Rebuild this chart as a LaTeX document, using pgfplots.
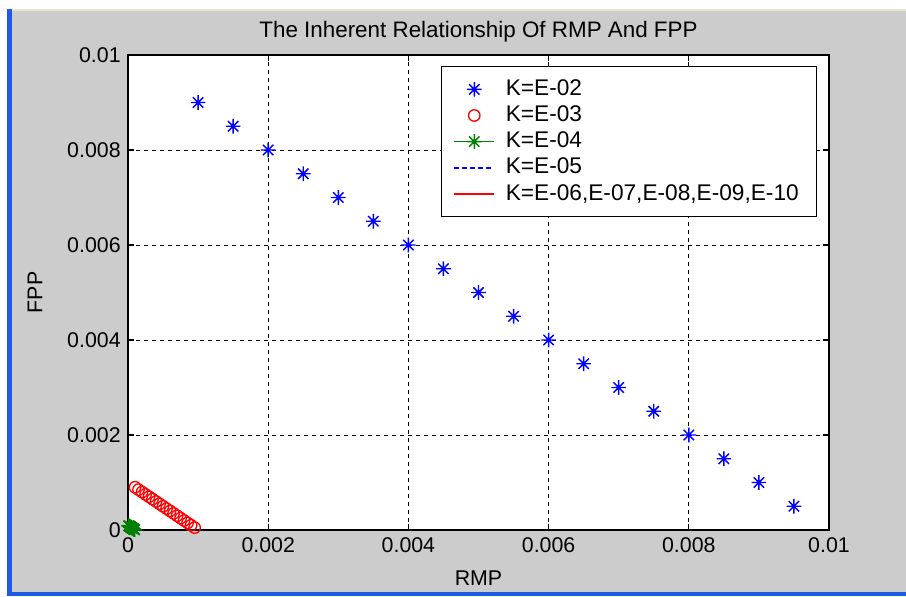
\documentclass[border=0pt]{standalone}
\usepackage{fontspec}
\setmainfont{Liberation Sans}
\usepackage{pgfplots}
\pgfplotsset{compat=1.18}
\definecolor{figgray}{RGB}{204,204,204}
\definecolor{winblue}{RGB}{30,90,230}
\definecolor{cream}{RGB}{232,228,212}
\definecolor{mgreen}{RGB}{0,128,0}
\pgfdeclareplotmark{mstar}{%
 \pgfpathmoveto{\pgfqpoint{-\pgfplotmarksize}{0pt}}\pgfpathlineto{\pgfqpoint{\pgfplotmarksize}{0pt}}%
 \pgfpathmoveto{\pgfqpoint{0pt}{-\pgfplotmarksize}}\pgfpathlineto{\pgfqpoint{0pt}{\pgfplotmarksize}}%
 \pgfpathmoveto{\pgfqpoint{-.707\pgfplotmarksize}{-.707\pgfplotmarksize}}\pgfpathlineto{\pgfqpoint{.707\pgfplotmarksize}{.707\pgfplotmarksize}}%
 \pgfpathmoveto{\pgfqpoint{-.707\pgfplotmarksize}{.707\pgfplotmarksize}}\pgfpathlineto{\pgfqpoint{.707\pgfplotmarksize}{-.707\pgfplotmarksize}}%
 \pgfusepathqstroke}
\begin{document}
\fontsize{16}{19}\selectfont
\begin{tikzpicture}
% figure window background
\fill[white] (-96pt,-49.5pt) rectangle (583.5pt,397.5pt);
\fill[cream] (-87pt,389.25pt) rectangle (583.5pt,390.75pt);
\fill[figgray] (-87pt,-46.5pt) rectangle (583.5pt,389.25pt);
\fill[winblue] (-90.75pt,-49.5pt) rectangle (-87pt,390.75pt);
\fill[winblue] (-90.75pt,-49.5pt) rectangle (583.5pt,-46.5pt);
\begin{axis}[
  at={(0pt,0pt)}, anchor=south west,
  scale only axis, width=525.75pt, height=356.25pt,
  xmin=0, xmax=0.01, ymin=0, ymax=0.01,
  xtick={0,0.002,0.004,0.006,0.008,0.01},
  ytick={0,0.002,0.004,0.006,0.008,0.01},
  xticklabels={0,0.002,0.004,0.006,0.008,0.01},
  yticklabels={0,0.002,0.004,0.006,0.008,0.01},
  scaled ticks=false,
  tick align=inside, major tick length=4.5pt,
  tick style={black, line width=0.8pt},
  axis line style={black, line width=1pt},
  axis background/.style={fill=white},
  grid=major,
  major grid style={black, line width=0.6pt, dash pattern=on 3pt off 3pt},
  title={The Inherent Relationship Of RMP And FPP},
  title style={at={(axis description cs:0.5,1)}, anchor=base, yshift=7pt, font=\fontsize{16.8}{19}\selectfont},
  xlabel={RMP}, ylabel={FPP},
  xlabel style={at={(rel axis cs:0.5,-0.101)}, anchor=center},
  ylabel style={at={(rel axis cs:-0.1327,0.5)}, anchor=center},
  clip=false,
  legend cell align=left,
  legend style={at={(rel axis cs:0.9829,0.9768)}, anchor=north east,
    draw=black, line width=0.8pt, fill=white, inner xsep=9pt, inner ysep=8pt,
    row sep=1.3pt, font=\fontsize{17}{20}\selectfont,
    nodes={text width=222pt, align=left},
    /tikz/every odd column/.append style={column sep=6pt}},
  legend image code/.code={\draw[mark repeat=2,mark phase=2,#1] plot coordinates {(0pt,0pt)(15pt,0pt)(30pt,0pt)};},
]
\addplot[blue, only marks, mark=mstar, mark size=5.5pt, line width=1.1pt] coordinates {
(0.001,0.009)(0.0015,0.0085)(0.002,0.008)(0.0025,0.0075)(0.003,0.007)(0.0035,0.0065)
(0.004,0.006)(0.0045,0.0055)(0.005,0.005)(0.0055,0.0045)(0.006,0.004)(0.0065,0.0035)
(0.007,0.003)(0.0075,0.0025)(0.008,0.002)(0.0085,0.0015)(0.009,0.001)(0.0095,0.0005)};
\addlegendentry{K=E-02}
\addplot[red, only marks, mark=o, mark size=4.3pt, line width=1pt] coordinates {
(0.0001,0.0009)(0.00015,0.00085)(0.0002,0.0008)(0.00025,0.00075)(0.0003,0.0007)(0.00035,0.00065)
(0.0004,0.0006)(0.00045,0.00055)(0.0005,0.0005)(0.00055,0.00045)(0.0006,0.0004)(0.00065,0.00035)
(0.0007,0.0003)(0.00075,0.00025)(0.0008,0.0002)(0.00085,0.00015)(0.0009,0.0001)(0.00095,0.00005)};
\addlegendentry{K=E-03}
\addplot[mgreen, mark=mstar, mark size=5.5pt, line width=1.1pt] coordinates {
(0.00001,0.00009)(0.000015,0.000085)(0.00002,0.00008)(0.000025,0.000075)(0.00003,0.00007)(0.000035,0.000065)
(0.00004,0.00006)(0.000045,0.000055)(0.00005,0.00005)(0.000055,0.000045)(0.00006,0.00004)(0.000065,0.000035)
(0.00007,0.00003)(0.000075,0.000025)(0.00008,0.00002)(0.000085,0.000015)(0.00009,0.00001)(0.000095,0.000005)};
\addlegendentry{K=E-04}
\addplot[draw=blue, color=blue, line width=1.3pt, dash pattern=on 3.5pt off 2.5pt] coordinates {
(0.000001,0.000009)(0.0000095,0.0000005)};
\addlegendentry{K=E-05}
\addplot[color=red, line width=1.1pt] coordinates {
(0.0000001,0.0000009)(0.00000095,0.00000005)};
\addlegendentry{K=E-06,E-07,E-08,E-09,E-10}
\end{axis}
\end{tikzpicture}
\end{document}
